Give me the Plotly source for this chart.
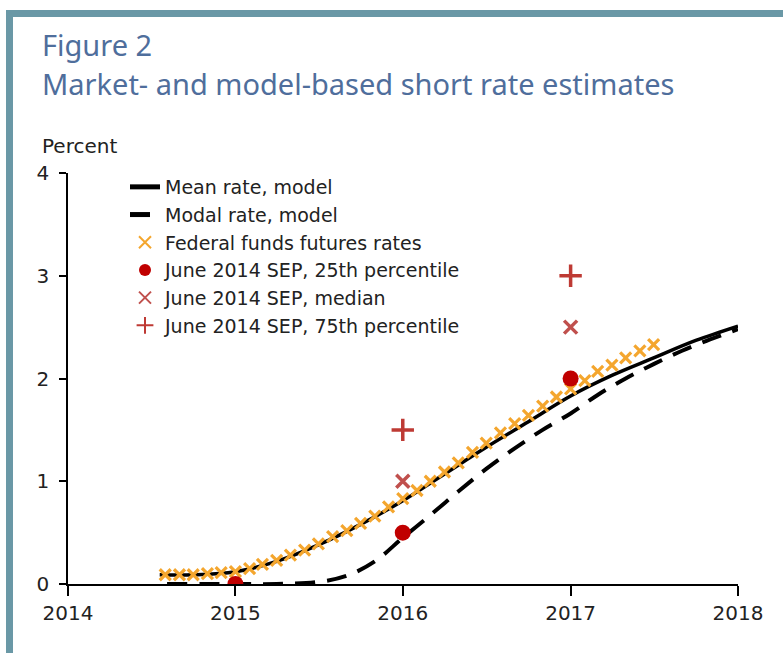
import plotly.graph_objects as go

# ---------------- data ----------------
mean_dates = ["2014-07-20", "2014-10-01", "2015-01-01", "2015-04-01", "2015-07-01",
              "2015-10-01", "2016-01-01", "2016-04-01", "2016-07-01", "2016-10-01",
              "2017-01-01", "2017-04-01", "2017-07-01", "2017-10-01", "2018-01-01"]
mean_vals = [0.09, 0.09, 0.12, 0.22, 0.38, 0.58, 0.81, 1.07, 1.33, 1.58,
             1.83, 2.03, 2.20, 2.37, 2.51]

modal_dates = ["2014-08-05", "2015-01-01", "2015-04-01", "2015-07-01", "2015-09-01",
               "2015-11-01", "2016-01-01", "2016-03-01", "2016-05-01", "2016-07-01",
               "2016-09-01", "2016-11-01", "2017-01-01", "2017-03-01", "2017-05-01",
               "2017-07-01", "2017-09-01", "2017-11-01", "2018-01-01"]
modal_vals = [0.0, 0.0, 0.0, 0.02, 0.08, 0.22, 0.45, 0.67, 0.90, 1.12,
              1.32, 1.50, 1.66, 1.84, 2.00, 2.14, 2.27, 2.38, 2.48]

futures_dates = ["2014-08-01", "2014-09-01", "2014-10-01", "2014-11-01", "2014-12-01",
                 "2015-01-01", "2015-02-01", "2015-03-01", "2015-04-01", "2015-05-01",
                 "2015-06-01", "2015-07-01", "2015-08-01", "2015-09-01", "2015-10-01",
                 "2015-11-01", "2015-12-01", "2016-01-01", "2016-02-01", "2016-03-01",
                 "2016-04-01", "2016-05-01", "2016-06-01", "2016-07-01", "2016-08-01",
                 "2016-09-01", "2016-10-01", "2016-11-01", "2016-12-01", "2017-01-01",
                 "2017-02-01", "2017-03-01", "2017-04-01", "2017-05-01", "2017-06-01",
                 "2017-07-01"]
futures_vals = [0.09, 0.09, 0.09, 0.10, 0.11,
                0.12, 0.15, 0.19, 0.23, 0.28, 0.33, 0.39, 0.46, 0.52, 0.59, 0.66, 0.75,
                0.83, 0.91, 1.00, 1.09, 1.18, 1.28, 1.37, 1.47, 1.56, 1.64, 1.73, 1.82,
                1.90, 1.98, 2.07, 2.13, 2.20, 2.27, 2.33]

sep_dates = ["2015-01-01", "2016-01-01", "2017-01-01"]
sep_p25 = [0.0, 0.5, 2.0]
sep_median = [None, 1.0, 2.5]
sep_p75 = [None, 1.5, 3.0]

year_ticks = ["2014-01-01", "2015-01-01", "2016-01-01", "2017-01-01", "2018-01-01"]
year_labels = ["2014", "2015", "2016", "2017", "2018"]

# ---------------- layout helpers ----------------
W, H = 783, 653
L, R, T, B = 68, 45, 173, 69
PW, PH = W - L - R, H - T - B


def px(x):
    return (x - L) / PW


def py(y):
    return (H - B - y) / PH


FONT = "DejaVu Sans"
TITLE_FONT = "Noto Sans"
TITLE_COLOR = "#4F6E9C"
FRAME = "#6A98A6"
TEXT = "#222222"

fig = go.Figure()

fig.add_trace(go.Scatter(x=mean_dates, y=mean_vals, mode="lines", name="Mean rate, model",
                         line=dict(color="black", width=3.5, shape="spline")))
fig.add_trace(go.Scatter(x=modal_dates, y=modal_vals, mode="lines", name="Modal rate, model",
                         line=dict(color="black", width=4, dash="20px,12px", shape="spline")))
fig.add_trace(go.Scatter(x=futures_dates, y=futures_vals, mode="markers",
                         name="Federal funds futures rates",
                         marker=dict(symbol="x-thin", size=11, color="#F4A62E",
                                     line=dict(color="#F4A62E", width=3.2))))
fig.add_trace(go.Scatter(x=sep_dates, y=sep_p25, mode="markers",
                         name="June 2014 SEP, 25th percentile",
                         marker=dict(symbol="circle", size=16, color="#C00000")))
fig.add_trace(go.Scatter(x=sep_dates, y=sep_median, mode="markers",
                         name="June 2014 SEP, median",
                         marker=dict(symbol="x-thin", size=13, color="#C0504D",
                                     line=dict(color="#C0504D", width=3.5))))
fig.add_trace(go.Scatter(x=sep_dates, y=sep_p75, mode="markers",
                         name="June 2014 SEP, 75th percentile",
                         marker=dict(symbol="cross-thin", size=16, color="#BE3A34",
                                     line=dict(color="#BE3A34", width=3.5))))

# frame
shapes = [
    dict(type="rect", xref="paper", yref="paper", x0=px(6), x1=px(W + 5), y0=py(17), y1=py(10),
         fillcolor=FRAME, line=dict(width=0), layer="above"),
    dict(type="rect", xref="paper", yref="paper", x0=px(6), x1=px(13), y0=py(H + 5), y1=py(10),
         fillcolor=FRAME, line=dict(width=0), layer="above"),
]

annotations = [
    dict(text="Figure 2", xref="paper", yref="paper", x=px(40), y=py(45), xanchor="left",
         yanchor="middle", showarrow=False, font=dict(family=TITLE_FONT, size=29, color=TITLE_COLOR)),
    dict(text="Market- and model-based short rate estimates", xref="paper", yref="paper",
         x=px(40), y=py(84), xanchor="left", yanchor="middle", showarrow=False,
         font=dict(family=TITLE_FONT, size=29, color=TITLE_COLOR)),
    dict(text="Percent", xref="paper", yref="paper", x=px(40), y=py(146), xanchor="left",
         yanchor="middle", showarrow=False, font=dict(family=FONT, size=20, color=TEXT)),
]

fig.update_layout(
    width=W, height=H,
    margin=dict(l=L, r=R, t=T, b=B),
    paper_bgcolor="white", plot_bgcolor="white",
    font=dict(family=FONT, size=20, color=TEXT),
    showlegend=True,
    legend=dict(x=px(125), y=py(168), xanchor="left", yanchor="top",
                bgcolor="rgba(0,0,0,0)", font=dict(family=FONT, size=19, color=TEXT),
                tracegroupgap=0, itemsizing="constant"),
    shapes=shapes,
    annotations=annotations,
)

fig.update_xaxes(range=["2014-01-01", "2018-01-01"], tickvals=year_ticks, ticktext=year_labels,
                 ticks="outside", ticklen=10, tickwidth=1.5, tickcolor="black",
                 showline=True, linecolor="black", linewidth=1.5, showgrid=False, zeroline=False,
                 tickfont=dict(family=FONT, size=20, color=TEXT))
fig.update_yaxes(range=[0, 4], tickvals=[0, 1, 2, 3, 4], ticks="outside", ticklen=7,
                 tickwidth=1.5, tickcolor="black", showline=True, linecolor="black",
                 linewidth=1.5, showgrid=False, zeroline=False, ticklabelstandoff=6,
                 tickfont=dict(family=FONT, size=20, color=TEXT))

fig.write_html("out.html", config={"displayModeBar": False},
               post_script="document.body.style.margin='0';")
